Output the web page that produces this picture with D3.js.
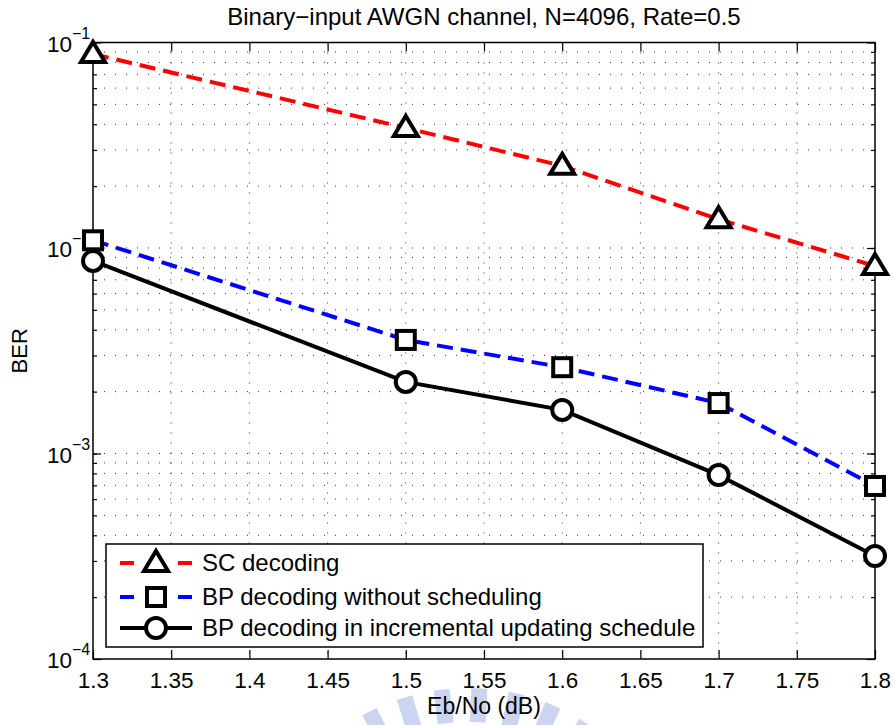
<!DOCTYPE html>
<html>
<head>
<meta charset="utf-8">
<script src="https://cdn.jsdelivr.net/npm/d3@7"></script>
<style>
body { margin: 0; background: #fff; }
text { font-family: "Liberation Sans", Arial, sans-serif; fill: #000; }
</style>
</head>
<body>
<svg id="chart" width="895" height="725"></svg>
<script>
// data
var ebno = [1.3, 1.5, 1.6, 1.7, 1.8];
var berSC = [0.0879, 0.0384, 0.0251, 0.0138, 0.00817];
var berBP = [0.0109, 0.00357, 0.00263, 0.00176, 0.000695];
var berInc = [0.00865, 0.00223, 0.00163, 0.000785, 0.000317];
var xTicks = [1.3, 1.35, 1.4, 1.45, 1.5, 1.55, 1.6, 1.65, 1.7, 1.75, 1.8];
var yMajor = [1e-4, 1e-3, 1e-2, 1e-1];
var yExp = ["\u22124", "\u22123", "\u22122", "\u22121"];
var names = ["SC decoding", "BP decoding without scheduling", "BP decoding in incremental updating schedule"];

var pLeft = 93, pRight = 875, pTop = 42.5, pBottom = 659;

var svg = d3.select("#chart");

var x = d3.scaleLinear().domain([1.3, 1.8]).range([pLeft, pRight]);
var y = d3.scaleLog().domain([1e-4, 1e-1]).range([pBottom, pTop]);

//watermark (faint logo at the bottom)
var wm = svg.append("g").attr("transform", "translate(468,905)");
for (var i = 0; i < 36; i++) {
  wm.append("rect")
    .attr("x", -8).attr("y", -217).attr("width", 16).attr("height", 34)
    .attr("fill", "#ccd5f0")
    .attr("transform", "rotate(" + (i * 10 + 3) + ")");
}

//grid
var minor = y.ticks().filter(function(d) { return d > 1.0001e-4 && d < 0.0999; });
svg.append("g").selectAll("line").data(minor).enter().append("line")
  .attr("x1", pLeft).attr("x2", pRight)
  .attr("y1", function(d) { return y(d); }).attr("y2", function(d) { return y(d); })
  .attr("stroke", "#333").attr("stroke-width", 1).attr("stroke-dasharray", "1,10");
svg.append("g").selectAll("line").data(xTicks.slice(1, -1)).enter().append("line")
  .attr("y1", pTop).attr("y2", pBottom)
  .attr("x1", function(d) { return x(d); }).attr("x2", function(d) { return x(d); })
  .attr("stroke", "#333").attr("stroke-width", 1).attr("stroke-dasharray", "1,9");

//axes (ticks pointing inward)
function style(g) {
  g.select(".domain").remove();
  g.selectAll(".tick line").attr("stroke", "#000").attr("stroke-width", 1.2);
}
svg.append("g").attr("transform", "translate(0," + pBottom + ")")
  .call(d3.axisBottom(x).tickValues(xTicks).tickSize(-9).tickPadding(13)
    .tickFormat(function(d) { return String(d); }))
  .call(style)
  .selectAll("text").attr("font-size", 22.5).attr("font-family", "Liberation Sans, Arial, sans-serif");
svg.append("g").attr("transform", "translate(0," + pTop + ")")
  .call(d3.axisTop(x).tickValues(xTicks).tickSize(-9).tickFormat(""))
  .call(style);
svg.append("g").attr("transform", "translate(" + pLeft + ",0)")
  .call(d3.axisLeft(y).tickValues(minor).tickSize(-4).tickFormat("")).call(style);
svg.append("g").attr("transform", "translate(" + pRight + ",0)")
  .call(d3.axisRight(y).tickValues(minor).tickSize(-4).tickFormat("")).call(style);
svg.append("g").attr("transform", "translate(" + pLeft + ",0)")
  .call(d3.axisLeft(y).tickValues(yMajor).tickSize(-8).tickFormat("")).call(style);
svg.append("g").attr("transform", "translate(" + pRight + ",0)")
  .call(d3.axisRight(y).tickValues(yMajor).tickSize(-8).tickFormat("")).call(style);

//y tick labels 10^k
yMajor.forEach(function(v, i) {
  svg.append("text").attr("x", 72).attr("y", y(v) + 9)
    .attr("text-anchor", "end").attr("font-size", 22.5).text("10");
  svg.append("text").attr("x", 72).attr("y", y(v) - 4)
    .attr("font-size", 16).text(yExp[i]);
});

//frame
svg.append("rect").attr("x", pLeft).attr("y", pTop)
  .attr("width", pRight - pLeft).attr("height", pBottom - pTop)
  .attr("fill", "none").attr("stroke", "#000").attr("stroke-width", 1.5);

//markers
var triPath = "M0,-12L12,8L-12,8Z";
function marker(g, kind) {
  if (kind == "tri") {
    g.append("path").attr("d", triPath);
  } else if (kind == "sq") {
    g.append("rect").attr("x", -9).attr("y", -9).attr("width", 18).attr("height", 18);
  } else {
    g.append("circle").attr("r", 10);
  }
  g.selectAll("*").attr("fill", "#fff").attr("stroke", "#000")
    .attr("stroke-width", 4).attr("stroke-linejoin", "miter");
}

var series = [
  { vals: berSC, color: "#ff0000", dash: "16,8", m: "tri" },
  { vals: berBP, color: "#0000ff", dash: "16,8", m: "sq" },
  { vals: berInc, color: "#000000", dash: null, m: "circ" }
];

var line = d3.line()
  .x(function(d) { return x(d[0]); })
  .y(function(d) { return y(d[1]); });

series.forEach(function(s) {
  var pts = ebno.map(function(e, i) { return [e, s.vals[i]]; });
  svg.append("path").datum(pts)
    .attr("d", line)
    .attr("fill", "none").attr("stroke", s.color).attr("stroke-width", 4)
    .attr("stroke-dasharray", s.dash);
  pts.forEach(function(p) {
    var g = svg.append("g").attr("transform", "translate(" + x(p[0]) + "," + y(p[1]) + ")");
    marker(g, s.m);
  });
});

//legend
var lg = svg.append("g");
lg.append("rect").attr("x", 106).attr("y", 544).attr("width", 597).attr("height", 103)
  .attr("fill", "#fff").attr("stroke", "#000").attr("stroke-width", 1.5);
var rowY = [563, 597, 628];
series.forEach(function(s, i) {
  lg.append("line").attr("x1", 120).attr("x2", 192)
    .attr("y1", rowY[i]).attr("y2", rowY[i])
    .attr("stroke", s.color).attr("stroke-width", 4)
    .attr("stroke-dasharray", s.dash ? "14,44,14" : null);
  marker(lg.append("g").attr("transform", "translate(156," + rowY[i] + ")"), s.m);
  lg.append("text").attr("x", 202).attr("y", rowY[i] + 8)
    .attr("font-size", 24).text(names[i]);
});

//labels
svg.append("text").attr("x", (pLeft + pRight) / 2).attr("y", 25)
  .attr("text-anchor", "middle").attr("font-size", 24)
  .text("Binary\u2212input AWGN channel, N=4096, Rate=0.5");
svg.append("text").attr("x", (pLeft + pRight) / 2).attr("y", 714)
  .attr("text-anchor", "middle").attr("font-size", 23)
  .text("Eb/No (dB)");
svg.append("text").attr("transform", "rotate(-90)")
  .attr("x", -(pTop + pBottom) / 2).attr("y", 27)
  .attr("text-anchor", "middle").attr("font-size", 22)
  .text("BER");
</script>
</body>
</html>
